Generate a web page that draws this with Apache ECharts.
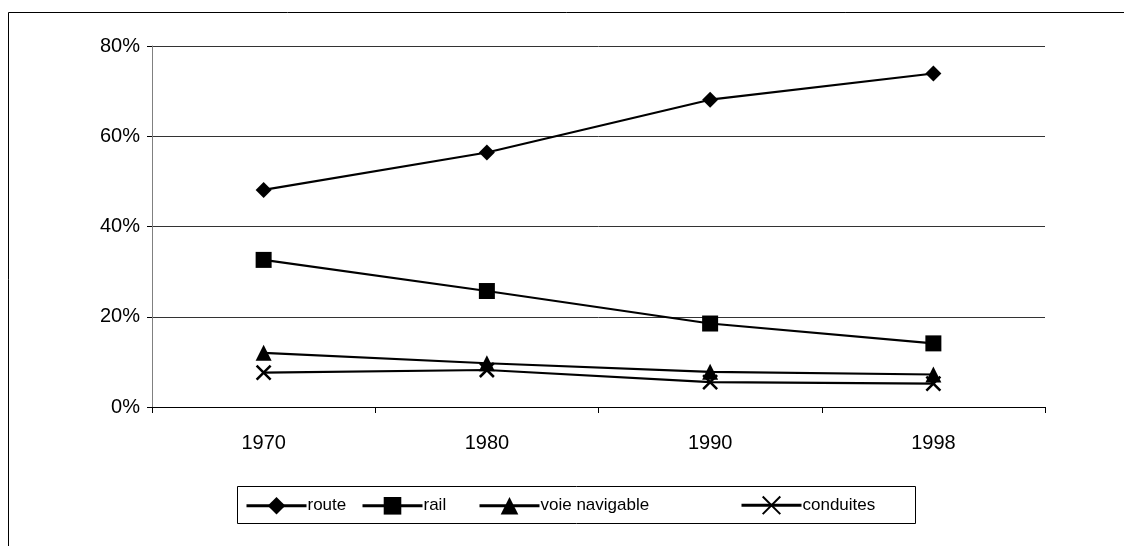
<!DOCTYPE html>
<html>
<head>
<meta charset="utf-8">
<script src="https://cdn.jsdelivr.net/npm/echarts@6/dist/echarts.min.js"></script>
<style>
  html, body { margin: 0; padding: 0; background: #fff; }
  #chart { width: 1124px; height: 546px; }
</style>
</head>
<body>
<div id="chart"></div>
<script>
// data (percent)
var years = ['1970', '1980', '1990', '1998'];
var route = [48.1, 56.4, 68.1, 73.9];
var rail = [32.6, 25.7, 18.5, 14.1];
var voieNavigable = [12.0, 9.7, 7.8, 7.2];
var conduites = [7.6, 8.2, 5.5, 5.2];
var yTicks = [0, 20, 40, 60, 80];
var seriesNames = ['route', 'rail', 'voie navigable', 'conduites'];

var font = 'Liberation Sans, Arial, sans-serif';
var crossPath = 'path://M0,0L10,10M10,0L0,10';

var myChart = echarts.init(document.getElementById('chart'));

function mkSeries(name, data, symbol, size) {
  var s = {
    name: name,
    type: 'line',
    data: data,
    symbol: symbol,
    symbolSize: size,
    showAllSymbol: true,
    lineStyle: { color: '#000', width: 2.2 },
    itemStyle: { color: '#000' },
    emphasis: { disabled: true },
    animation: false
  };
  if (symbol === crossPath) {
    s.itemStyle = { color: 'none', borderColor: '#000', borderWidth: 2.5 };
  }
  return s;
}

// one legend per item, so each sits where it does in the picture
var legendLeft = [240, 356, 473, 735];
var legendTop = [492, 492, 492, 489];
var legends = seriesNames.map(function (n, i) {
  return {
    data: [n],
    left: legendLeft[i], top: legendTop[i],
    itemWidth: 60, itemHeight: 22,
    lineStyle: { width: 3 },
    textStyle: { color: '#000', fontSize: 17, fontFamily: font, padding: [0, 0, 0, -4] },
    selectedMode: false
  };
});

myChart.setOption({
  backgroundColor: '#fff',
  textStyle: { fontFamily: font },
  grid: { left: 152, right: 79, top: 46, bottom: 139 },
  xAxis: {
    type: 'category',
    data: years,
    boundaryGap: true,
    axisLine: { lineStyle: { color: '#000', width: 1 } },
    axisTick: { show: true, length: 6, inside: false, lineStyle: { color: '#000' } },
    axisLabel: { color: '#000', fontSize: 20, fontFamily: font, margin: 26 }
  },
  yAxis: {
    type: 'value',
    min: yTicks[0],
    max: yTicks[yTicks.length - 1],
    interval: 20,
    axisLine: { show: true, lineStyle: { color: '#808080', width: 1 } },
    axisTick: { show: true, length: 5, lineStyle: { color: '#000' } },
    axisLabel: { color: '#000', fontSize: 20, fontFamily: font, margin: 12, formatter: '{value}%' },
    splitLine: { lineStyle: { color: '#333', width: 1 } }
  },
  legend: legends,
  graphic: [
    { type: 'rect', shape: { x: 8.5, y: 12.5, width: 1300, height: 700 }, style: { fill: 'none', stroke: '#000', lineWidth: 1 }, silent: true, z: -1 },
    { type: 'rect', shape: { x: 237.5, y: 486.5, width: 678, height: 37 }, style: { fill: 'none', stroke: '#000', lineWidth: 1 }, silent: true }
  ],
  series: [
    mkSeries(seriesNames[0], route, 'diamond', 16),
    mkSeries(seriesNames[1], rail, 'rect', 16),
    mkSeries(seriesNames[2], voieNavigable, 'triangle', 16),
    mkSeries(seriesNames[3], conduites, crossPath, 14)
  ]
});
</script>
</body>
</html>
